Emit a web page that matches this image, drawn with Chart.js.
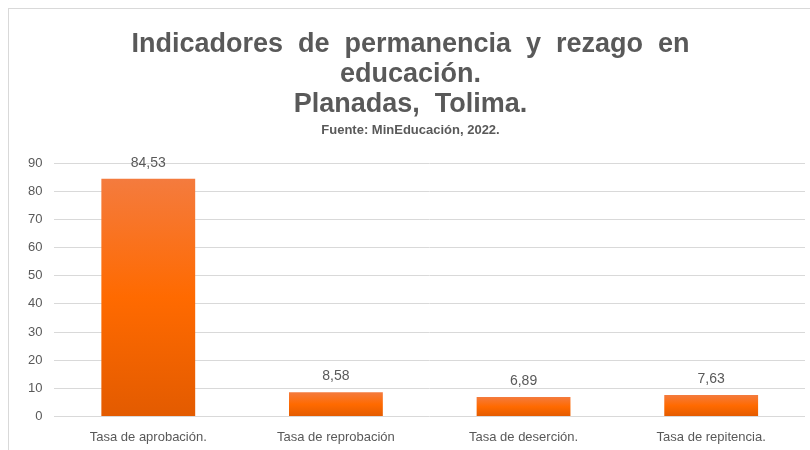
<!DOCTYPE html>
<html>
<head>
<meta charset="utf-8">
<script src="https://cdn.jsdelivr.net/npm/chart.js@4/dist/chart.umd.min.js"></script>
<style>
  html, body { margin: 0; padding: 0; background: #fff; }
  #wrap { position: relative; width: 810px; height: 450px; }
  #frame { position: absolute; left: 8px; top: 8px; right: 0; bottom: 0;
           border-top: 1px solid #d9d9d9; border-left: 1px solid #d9d9d9; }
  canvas { position: absolute; left: 0; top: 0; }
</style>
</head>
<body>
<div id="wrap">
  <div id="frame"></div>
  <canvas id="chart" width="810" height="450"></canvas>
</div>
<script>
// data
const categories = ["Tasa de aprobación.", "Tasa de reprobación", "Tasa de deserción.", "Tasa de repitencia."]
const tasas = [84.53, 8.58, 6.89, 7.63]
const yTicks = [0, 10, 20, 30, 40, 50, 60, 70, 80, 90]

const textGray = "#595959"
const font = "'Liberation Sans', Arial, sans-serif"

// excel style gradient, one per bar
function barGradient(context) {
    const chart = context.chart
    const y = chart.scales.y
    if (!y || !chart.chartArea || context.raw === undefined) return "#ff6a00"
    const top = y.getPixelForValue(context.raw)
    const bottom = y.getPixelForValue(0)
    if (!isFinite(top) || !isFinite(bottom) || top === bottom) return "#ff6a00"
    const g = chart.ctx.createLinearGradient(0, top, 0, bottom)
    g.addColorStop(0, "#f47b3e")
    g.addColorStop(0.5, "#ff6a00")
    g.addColorStop(1, "#e35b00")
    return g
}

// draws the value above each bar, with decimal comma
const valueLabels = {
    id: "valueLabels",
    afterDatasetsDraw(chart) {
        const ctx = chart.ctx
        const meta = chart.getDatasetMeta(0)
        ctx.save()
        ctx.font = "14px " + font
        ctx.fillStyle = textGray
        ctx.textAlign = "center"
        ctx.textBaseline = "bottom"
        meta.data.forEach((bar, i) => {
            const txt = tasas[i].toFixed(2).replace(".", ",")
            ctx.fillText(txt, bar.x, bar.y - 9)
        })
        ctx.restore()
    }
}

new Chart(document.getElementById("chart"), {
    type: "bar",
    data: {
        labels: categories,
        datasets: [{
            data: tasas,
            backgroundColor: barGradient,
            borderWidth: 0,
            categoryPercentage: 1,
            barPercentage: 0.5
        }]
    },
    options: {
        responsive: false,
        animation: false,
        layout: { padding: { left: 16, right: 5, top: 14, bottom: 0 } },
        plugins: {
            legend: { display: false },
            tooltip: { enabled: false },
            title: {
                display: true,
                text: ["Indicadores  de  permanencia  y  rezago  en", "educación.", "Planadas,  Tolima."],
                color: textGray,
                font: { family: font, size: 27, weight: "bold", lineHeight: 1.12 },
                padding: { top: 15, bottom: 0 }
            },
            subtitle: {
                display: true,
                text: "Fuente: MinEducación, 2022.",
                color: textGray,
                font: { family: font, size: 13, weight: "bold" },
                padding: { top: 3, bottom: 25 }
            }
        },
        scales: {
            x: {
                grid: { display: false },
                border: { display: false },
                ticks: { color: textGray, font: { family: font, size: 13 }, padding: 5, maxRotation: 0 }
            },
            y: {
                min: 0,
                max: 90,
                afterBuildTicks: axis => { axis.ticks = yTicks.map(v => ({ value: v })) },
                grid: { color: "#d9d9d9", drawTicks: false },
                border: { display: false },
                ticks: { color: textGray, font: { family: font, size: 13 }, padding: 12 }
            }
        }
    },
    plugins: [valueLabels]
})
</script>
</body>
</html>
